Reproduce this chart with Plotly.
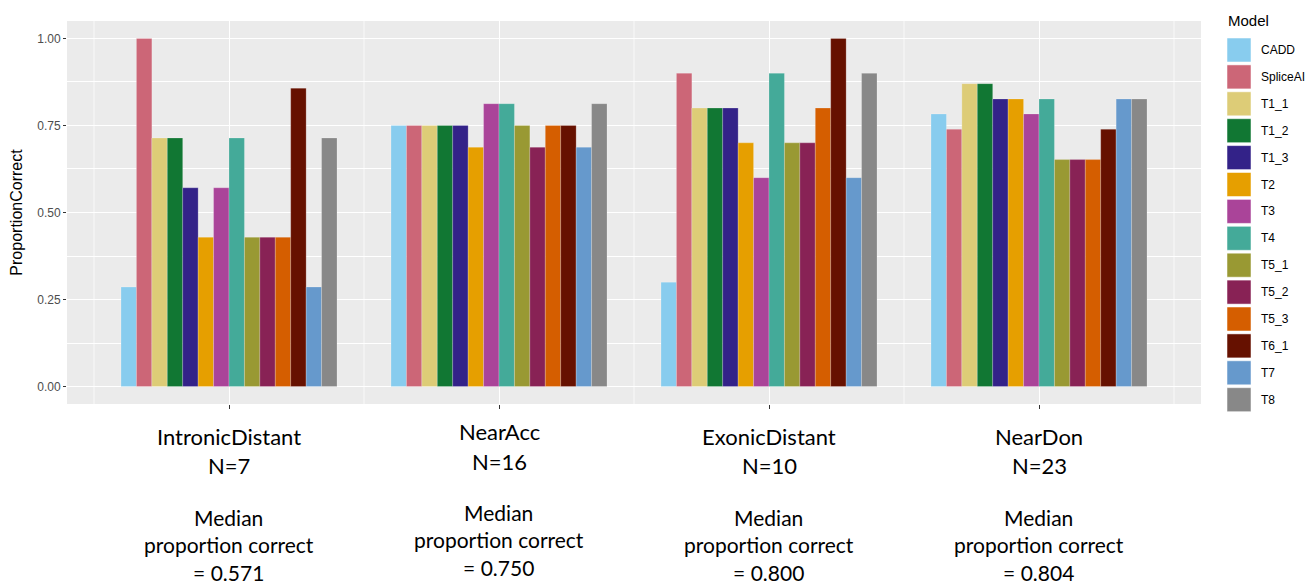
import plotly.graph_objects as go

categories = ["IntronicDistant", "NearAcc", "ExonicDistant", "NearDon"]
n_counts = ["N=7", "N=16", "N=10", "N=23"]
medians = ["0.571", "0.750", "0.800", "0.804"]
models = ["CADD", "SpliceAI", "T1_1", "T1_2", "T1_3", "T2", "T3", "T4",
          "T5_1", "T5_2", "T5_3", "T6_1", "T7", "T8"]
colors = ["#88CCEE", "#CC6677", "#DDCC77", "#117733", "#332288", "#E69F00",
          "#AA4499", "#44AA99", "#999933", "#882255", "#D55E00", "#661100",
          "#6699CC", "#888888"]

intronic_distant = [0.286, 1.0, 0.714, 0.714, 0.571, 0.429, 0.571, 0.714,
                    0.429, 0.429, 0.429, 0.857, 0.286, 0.714]
near_acc = [0.75, 0.75, 0.75, 0.75, 0.75, 0.6875, 0.8125, 0.8125,
            0.75, 0.6875, 0.75, 0.75, 0.6875, 0.8125]
exonic_distant = [0.3, 0.9, 0.8, 0.8, 0.8, 0.7, 0.6, 0.9,
                  0.7, 0.7, 0.8, 1.0, 0.6, 0.9]
near_don = [0.783, 0.739, 0.870, 0.870, 0.826, 0.826, 0.783, 0.826,
            0.652, 0.652, 0.652, 0.739, 0.826, 0.826]

series = [intronic_distant, near_acc, exonic_distant, near_don]

fig = go.Figure()
for mi, m in enumerate(models):
    fig.add_trace(go.Bar(
        name=m,
        x=categories,
        y=[s[mi] for s in series],
        marker=dict(color=colors[mi], line=dict(color="rgba(255,255,255,0.35)", width=0.6)),
        showlegend=False,
    ))

text_font = "Lato, Open Sans, sans-serif"
axis_font = "Liberation Sans, Arial, sans-serif"

W, H = 1312, 585
ml, mr, mt, mb = 67, 111, 21, 181
pw = W - ml - mr
ph = H - mt - mb

def px_to_paper_x(px):
    return (px - ml) / pw

def px_to_paper_y(py):
    return (H - mb - py) / ph

# minor vertical grid lines (ggplot style)
shapes = []
for xv in [-0.5, 0.5, 1.5, 2.5, 3.5]:
    shapes.append(dict(type="line", xref="x", yref="paper", x0=xv, x1=xv, y0=0, y1=1,
                       line=dict(color="white", width=0.7), layer="below"))

annotations = []
# category labels under the axis
for i, c in enumerate(categories):
    shift = -5 if i == 1 else 0
    for ln, yy in [(c, 436), (n_counts[i], 466)]:
        annotations.append(dict(
            xref="x", yref="paper", x=i, y=px_to_paper_y(yy + shift),
            xanchor="center", yanchor="middle", showarrow=False,
            text=ln, font=dict(family=text_font, size=22, color="black"),
        ))
    annotations.append(dict(
        xref="x", yref="paper", x=i, y=px_to_paper_y(545 + shift),
        xanchor="center", yanchor="middle", showarrow=False, align="center",
        text=f"Median<br>proportion correct<br>= {medians[i]}",
        font=dict(family=text_font, size=21, color="black"),
    ))

# legend drawn manually with large keys
annotations.append(dict(
    xref="paper", yref="paper", x=px_to_paper_x(1226), y=px_to_paper_y(20),
    xanchor="left", yanchor="middle", showarrow=False, text="Model",
    font=dict(family=axis_font, size=15, color="black"),
))
for mi, m in enumerate(models):
    cy = 50 + mi * 26.9
    shapes.append(dict(
        type="rect", xref="paper", yref="paper",
        x0=px_to_paper_x(1227), x1=px_to_paper_x(1251),
        y0=px_to_paper_y(cy - 12), y1=px_to_paper_y(cy + 12),
        fillcolor=colors[mi], line=dict(color="rgba(255,255,255,0.5)", width=1),
    ))
    annotations.append(dict(
        xref="paper", yref="paper", x=px_to_paper_x(1259), y=px_to_paper_y(cy),
        xanchor="left", yanchor="middle", showarrow=False, text=m,
        font=dict(family=axis_font, size=12, color="black"),
    ))

fig.update_layout(
    width=W, height=H,
    margin=dict(l=ml, r=mr, t=mt, b=mb, pad=0),
    paper_bgcolor="white",
    plot_bgcolor="#EBEBEB",
    barmode="group",
    bargap=0.2,
    bargroupgap=0,
    shapes=shapes,
    annotations=annotations,
    font=dict(family=axis_font),
)

fig.update_xaxes(
    type="category",
    range=[-0.6, 3.6],
    automargin=False,
    showgrid=True, gridcolor="white", gridwidth=1.3,
    showticklabels=False,
    ticks="outside", ticklen=4, tickcolor="#333333", tickwidth=1,
    zeroline=False, showline=False,
)

fig.update_yaxes(
    range=[-0.05, 1.05],
    automargin=False,
    tickmode="array",
    tickvals=[0, 0.25, 0.5, 0.75, 1.0],
    ticktext=["0.00", "0.25", "0.50", "0.75", "1.00"],
    showgrid=True, gridcolor="white", gridwidth=1.3,
    minor=dict(tickvals=[0.125, 0.375, 0.625, 0.875], showgrid=True,
               gridcolor="white", gridwidth=0.7, ticks=""),
    ticks="outside", ticklen=3, tickcolor="#333333", tickwidth=1,
    tickfont=dict(size=12, color="#4D4D4D"),
    zeroline=False, showline=False,
    title=dict(text="ProportionCorrect", font=dict(size=16, color="black"), standoff=10),
)

fig.write_html("out.html", config={"displayModeBar": False},
               post_script="document.body.style.margin='0';document.body.style.overflow='hidden';")
